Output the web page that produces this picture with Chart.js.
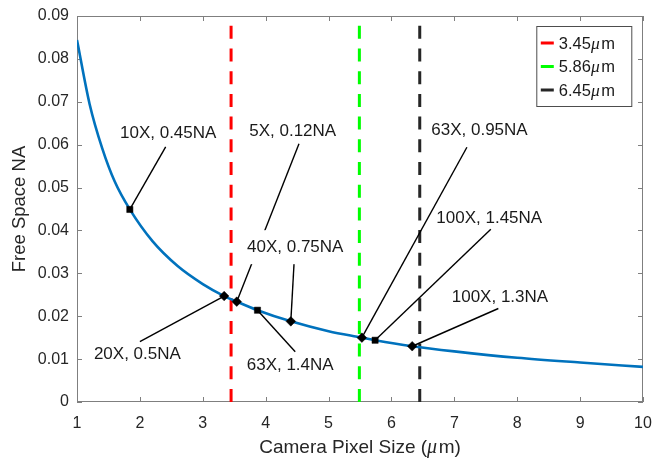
<!DOCTYPE html>
<html><head><meta charset="utf-8">
<script src="https://cdn.jsdelivr.net/npm/chart.js@4/dist/chart.umd.min.js"></script>
<style>html,body{margin:0;padding:0;background:#fff;}#wrap{width:652px;height:460px;position:relative;}</style>
</head><body><div id="wrap"><canvas id="c"></canvas></div>
<script>
// ---- data ----
const curveX = [1.0, 1.2, 1.4, 1.6, 1.84, 2.2, 2.6, 3.0, 3.34, 3.54, 3.87, 4.4, 5.0, 5.53, 5.74, 6.33, 7.0, 8.0, 9.0, 10.0];
const curveY = [0.0844, 0.0695, 0.0592, 0.0514, 0.0449, 0.0375, 0.0317, 0.0275, 0.0247, 0.0234, 0.0214, 0.0188, 0.0165, 0.0150, 0.0144, 0.0130, 0.0118, 0.0103, 0.0092, 0.0082];

const objLabels = ['10X, 0.45NA', '20X, 0.5NA', '5X, 0.12NA', '63X, 1.4NA', '40X, 0.75NA', '63X, 0.95NA', '100X, 1.45NA', '100X, 1.3NA'];
const objX = [1.84, 3.34, 3.54, 3.87, 4.40, 5.53, 5.74, 6.33];
const objY = [0.0449, 0.0247, 0.0234, 0.0214, 0.0188, 0.0150, 0.0144, 0.0130];
const objShape = ['rect', 'rectRot', 'rectRot', 'rect', 'rectRot', 'rectRot', 'rect', 'rectRot'];
// annotation text anchor and leader-line end (data coordinates)
const textX = [2.45, 1.96, 4.43, 4.39, 4.47, 7.40, 7.555, 7.725];
const textY = [0.0627, 0.0112, 0.0632, 0.0085, 0.0361, 0.0633, 0.0428, 0.0244];
const leadX = [2.41, 2.00, 4.53, 4.47, 4.455, 7.20, 7.58, 7.70];
const leadY = [0.0595, 0.01406, 0.0602, 0.0117, 0.0333, 0.0594, 0.0403, 0.0218];

const sensorLabels = ['3.45μm', '5.86μm', '6.45μm'];
const sensorX = [3.45, 5.49, 6.45];
const sensorColors = ['#ff0000', '#00ff00', '#262626'];

const xTickValues = [1, 2, 3, 4, 5, 6, 7, 8, 9, 10];
const xTickLabels = ['1', '2', '3', '4', '5', '6', '7', '8', '9', '10'];
const yTickValues = [0, 0.01, 0.02, 0.03, 0.04, 0.05, 0.06, 0.07, 0.08, 0.09];
const yTickLabels = ['0', '0.01', '0.02', '0.03', '0.04', '0.05', '0.06', '0.07', '0.08', '0.09'];

const xTitle = 'Camera Pixel Size (μm)';
const yTitle = 'Free Space NA';

// ---- styling ----
const FONT = '"Liberation Sans", Arial, Helvetica, sans-serif';
const TXT = '#262626';
const AXIS = '#7f7f7f';

function mixedText(ctx, text, x, y, size, align, color) {
  const parts = text.split('μ');
  const segs = [];
  parts.forEach((p, i) => { if (i > 0) segs.push({ t: 'μ', it: true }); if (p) segs.push({ t: p, it: false }); });
  let w = 0;
  segs.forEach(s => {
    ctx.font = s.it ? ('italic ' + (size + 1) + 'px "Liberation Serif", serif') : (size + 'px ' + FONT);
    s.w = ctx.measureText(s.t).width + (s.it ? 1.5 : 0);
    w += s.w;
  });
  let cx = align === 'center' ? x - w / 2 : (align === 'right' ? x - w : x);
  ctx.textAlign = 'left';
  ctx.fillStyle = color;
  segs.forEach(s => {
    ctx.font = s.it ? ('italic ' + (size + 1) + 'px "Liberation Serif", serif') : (size + 'px ' + FONT);
    ctx.fillText(s.t, cx, y);
    cx += s.w;
  });
  return w;
}

const datasets = [];
datasets.push({
  label: 'objectives', data: objX.map((x, i) => ({ x: x, y: objY[i] })),
  showLine: false, pointStyle: objShape,
  pointRadius: objShape.map(s => s === 'rect' ? 4.4 : 4.8),
  pointBackgroundColor: '#000', pointBorderColor: '#000', pointBorderWidth: 0.5, order: 0
});
objX.forEach((x, i) => {
  datasets.push({
    label: 'lead' + i, data: [{ x: x, y: objY[i] }, { x: leadX[i], y: leadY[i] }],
    borderColor: '#000', borderWidth: 1.4, pointRadius: 0, order: 1
  });
});
datasets.push({
  label: 'curve', data: curveX.map((x, i) => ({ x: x, y: curveY[i] })),
  borderColor: '#0072BD', borderWidth: 2.6, pointRadius: 0,
  cubicInterpolationMode: 'monotone', order: 2
});
sensorX.forEach((x, i) => {
  datasets.push({
    label: sensorLabels[i], isSensor: true, data: [{ x: x, y: 0 }, { x: x, y: 0.09 }],
    borderColor: sensorColors[i], borderWidth: 3, borderDash: [13, 9.7], pointRadius: 0, order: 3
  });
});

const framePlugin = {
  id: 'frame',
  beforeDatasetsDraw(chart) {
    const { ctx, chartArea: a, scales: { x, y } } = chart;
    ctx.save();
    ctx.strokeStyle = AXIS; ctx.lineWidth = 1;
    ctx.strokeRect(a.left + 0.5, a.top + 0.5, a.right - a.left - 1, a.bottom - a.top - 1);
    const tl = 5;
    ctx.beginPath();
    xTickValues.forEach(v => {
      const px = Math.round(x.getPixelForValue(v)) + 0.5;
      ctx.moveTo(px, a.bottom); ctx.lineTo(px, a.bottom - tl);
      ctx.moveTo(px, a.top); ctx.lineTo(px, a.top + tl);
    });
    yTickValues.forEach(v => {
      const py = Math.round(y.getPixelForValue(v)) + 0.5;
      ctx.moveTo(a.left, py); ctx.lineTo(a.left + tl, py);
      ctx.moveTo(a.right, py); ctx.lineTo(a.right - tl, py);
    });
    ctx.stroke();
    ctx.restore();
  },
  afterDraw(chart) {
    const { ctx, chartArea: a, scales: { x, y } } = chart;
    ctx.save();
    // annotation texts
    ctx.textBaseline = 'middle';
    objLabels.forEach((t, i) => {
      const px = x.getPixelForValue(textX[i]), py = y.getPixelForValue(textY[i]);
      ctx.font = '17px ' + FONT;
      const w = ctx.measureText(t).width;
      if (t === '40X, 0.75NA') {
        ctx.fillStyle = '#fff';
        ctx.fillRect(px - w / 2 - 2, py - 17, w + 4, 34);
      }
      ctx.fillStyle = '#1a1a1a'; ctx.textAlign = 'center';
      ctx.fillText(t, px, py);
    });
    // axis titles
    ctx.textBaseline = 'alphabetic';
    mixedText(ctx, xTitle, (a.left + a.right) / 2, 453, 19, 'center', TXT);
    ctx.save();
    ctx.translate(25, (a.top + a.bottom) / 2);
    ctx.rotate(-Math.PI / 2);
    mixedText(ctx, yTitle, 0, 0, 18.5, 'center', TXT);
    ctx.restore();
    // legend
    const sens = chart.data.datasets.filter(d => d.isSensor);
    const bx = a.right - 106.7, by = a.top + 10, bw = 96, bh = 81;
    ctx.fillStyle = '#fff';
    ctx.fillRect(bx, by, bw, bh);
    ctx.strokeStyle = '#4d4d4d'; ctx.lineWidth = 1;
    ctx.strokeRect(bx + 0.5, by + 0.5, bw - 1, bh - 1);
    ctx.textBaseline = 'middle';
    sens.forEach((d, i) => {
      const cy = by + 17 + i * 23.5;
      ctx.strokeStyle = d.borderColor; ctx.lineWidth = 3;
      ctx.beginPath(); ctx.moveTo(bx + 4.5, cy); ctx.lineTo(bx + 17.5, cy); ctx.stroke();
      mixedText(ctx, d.label, bx + 22.5, cy + 1, 16.5, 'left', '#1a1a1a');
    });
    ctx.restore();
  }
};

new Chart(document.getElementById('c'), {
  type: 'line',
  data: { datasets: datasets },
  options: {
    responsive: true, maintainAspectRatio: false, animation: false,
    layout: { padding: { top: 16, right: 9, left: 0, bottom: 0 } },
    plugins: { legend: { display: false }, tooltip: { enabled: false } },
    elements: { line: { tension: 0 } },
    scales: {
      x: {
        type: 'linear', min: 1, max: 10,
        afterBuildTicks: s => { s.ticks = xTickValues.map(v => ({ value: v })); },
        afterFit: s => { s.height = 58; s.paddingLeft = 0; s.paddingRight = 0; },
        grid: { display: false, drawTicks: false }, border: { display: false },
        ticks: { padding: 12, color: TXT, font: { family: FONT, size: 16 }, maxRotation: 0,
          callback: (v) => xTickLabels[xTickValues.indexOf(v)] }
      },
      y: {
        type: 'linear', min: 0, max: 0.09,
        afterBuildTicks: s => { s.ticks = yTickValues.map(v => ({ value: v })); },
        afterFit: s => { s.width = 77; s.paddingTop = 0; s.paddingBottom = 0; },
        grid: { display: false, drawTicks: false }, border: { display: false },
        ticks: { padding: 8, color: TXT, font: { family: FONT, size: 16 },
          callback: (v) => { const i = yTickValues.findIndex(t => Math.abs(t - v) < 1e-9); return i >= 0 ? yTickLabels[i] : ''; } }
      }
    }
  },
  plugins: [framePlugin]
});
</script></body></html>
